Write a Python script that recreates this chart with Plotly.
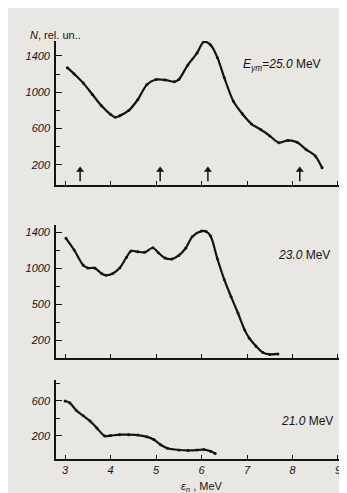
import plotly.graph_objects as go

# Panel 1: E_gamma_m = 25.0 MeV
e25 = [3.05, 3.2, 3.4, 3.6, 3.8, 4.0, 4.1, 4.2, 4.4, 4.6, 4.8, 5.0, 5.2, 5.4, 5.5, 5.7, 5.9, 6.05,
       6.2, 6.35, 6.5, 6.7, 6.9, 7.1, 7.3, 7.5, 7.7, 7.9, 8.1, 8.3, 8.5, 8.65]
n25 = [1270, 1200, 1100, 975, 850, 755, 725, 740, 800, 920, 1085, 1140, 1135, 1115, 1140, 1300, 1430, 1555,
       1520, 1380, 1160, 900, 760, 650, 590, 520, 445, 470, 450, 370, 300, 170]

# Panel 2: 23.0 MeV
e23 = [3.02, 3.2, 3.4, 3.5, 3.65, 3.8, 3.9, 4.05, 4.2, 4.35, 4.45, 4.6, 4.75, 4.93, 5.05, 5.2, 5.35,
       5.5, 5.65, 5.8, 6.0, 6.1, 6.2, 6.35, 6.5, 6.65, 6.8, 6.95, 7.05, 7.2, 7.35, 7.5, 7.68]
n23 = [1330, 1200, 1030, 1000, 1000, 940, 920, 940, 1000, 1120, 1190, 1180, 1175, 1225, 1170, 1110, 1100,
       1140, 1220, 1350, 1410, 1405, 1355, 1100, 870, 680, 500, 310, 220, 130, 60, 40, 45]

# Panel 3: 21.0 MeV
e21 = [3.0, 3.1, 3.25, 3.4, 3.55, 3.7, 3.87, 4.0, 4.2, 4.4, 4.6, 4.8, 4.95, 5.1, 5.25, 5.5, 5.7,
       5.9, 6.05, 6.2, 6.3]
n21 = [600, 580, 490, 430, 370, 290, 200, 205, 215, 215, 210, 190, 160, 100, 60, 40, 35, 40, 45, 25, 0]

# Arrow marks on the 25.0 MeV panel
arrow_pos = [3.33, 5.09, 6.14, 8.16]
arrow_base = 20
arrow_tip = 185
x_ticks = [3, 4, 5, 6, 7, 8, 9]

BG = "#e9e7e3"
INK = "#141414"
FONT = "Liberation Sans"

fig = go.Figure()
for xs, ys, xa, ya in [(e25, n25, "x", "y"), (e23, n23, "x2", "y2"), (e21, n21, "x3", "y3")]:
    fig.add_trace(go.Scatter(x=xs, y=ys, xaxis=xa, yaxis=ya,
                             mode="lines+markers", line=dict(color=INK, width=2.2, shape="spline", smoothing=0.8),
                             marker=dict(size=3, color=INK), showlegend=False, hoverinfo="skip"))

# arrow shafts
ax_x, ax_y = [], []
for p in arrow_pos:
    ax_x += [p, p, None]
    ax_y += [arrow_base, arrow_tip - 30, None]
fig.add_trace(go.Scatter(x=ax_x, y=ax_y, xaxis="x", yaxis="y", mode="lines",
                         line=dict(color=INK, width=1.5), showlegend=False, hoverinfo="skip"))
fig.add_trace(go.Scatter(x=arrow_pos, y=[arrow_tip - 40] * len(arrow_pos), xaxis="x", yaxis="y", mode="markers",
                         marker=dict(symbol="triangle-up", size=7, color=INK), showlegend=False, hoverinfo="skip"))

tickfont = dict(family=FONT, size=11, color=INK, style="italic")
xcommon = dict(range=[2.8, 9.22], showline=True, linecolor=INK, linewidth=1.6, ticks="inside",
               ticklen=4, tickcolor=INK, tickvals=x_ticks, showgrid=False, zeroline=False)
ycommon = dict(showline=True, linecolor=INK, linewidth=1.6, ticks="inside", ticklen=6, tickcolor=INK,
               showgrid=False, zeroline=False, tickfont=tickfont, ticklabelstandoff=2)

fig.update_layout(
    width=347, height=493,
    margin=dict(l=48, r=7, t=33, b=42),
    paper_bgcolor=BG, plot_bgcolor=BG,
    font=dict(family=FONT, color=INK),
    xaxis=dict(**xcommon, anchor="y", showticklabels=False),
    xaxis2=dict(**xcommon, anchor="y2", matches="x", showticklabels=False),
    xaxis3=dict(**xcommon, anchor="y3", matches="x", showticklabels=True, tickfont=tickfont),
    yaxis=dict(**ycommon, domain=[0.6555, 1.0], range=[-20, 1563], anchor="x",
               tickmode="array", tickvals=[200, 600, 1000, 1400],
               minor=dict(tickvals=[400, 800, 1200], ticks="inside", ticklen=4, tickcolor=INK)),
    yaxis2=dict(**ycommon, domain=[0.2416, 0.5598], range=[0, 1478], anchor="x2",
                tickmode="array", tickvals=[200, 600, 1000, 1400], ticktext=["200", "500", "1000", "1400"],
                minor=dict(tickvals=[400, 800, 1200], ticks="inside", ticklen=4, tickcolor=INK)),
    yaxis3=dict(**ycommon, domain=[0.0, 0.189], range=[-63, 840], anchor="x3",
                tickmode="array", tickvals=[200, 600],
                minor=dict(tickvals=[400, 800], ticks="inside", ticklen=4, tickcolor=INK)),
)

fig.add_annotation(x=-0.096, y=1.014, xref="paper", yref="paper", xanchor="left", yanchor="middle",
                   text="<i>N</i>, rel. un..", showarrow=False, font=dict(size=11, family=FONT, color=INK))
fig.add_annotation(x=0.635, y=0.943, xref="paper", yref="paper", xanchor="left", yanchor="middle",
                   text="<i>E</i><sub><i>γm</i></sub>=<i>25.0</i> MeV", showarrow=False,
                   font=dict(size=12, family=FONT, color=INK))
fig.add_annotation(x=0.755, y=0.488, xref="paper", yref="paper", xanchor="left", yanchor="middle",
                   text="<i>23.0</i> MeV", showarrow=False, font=dict(size=12, family=FONT, color=INK))
fig.add_annotation(x=0.762, y=0.091, xref="paper", yref="paper", xanchor="left", yanchor="middle",
                   text="<i>21.0</i> MeV", showarrow=False, font=dict(size=12, family=FONT, color=INK))
fig.add_annotation(x=0.5, y=-0.068, xref="paper", yref="paper", xanchor="center", yanchor="middle",
                   text="<i>ε</i><sub><i>n</i></sub> , MeV", showarrow=False,
                   font=dict(size=11, family=FONT, color=INK))

fig.write_html("out.html")
